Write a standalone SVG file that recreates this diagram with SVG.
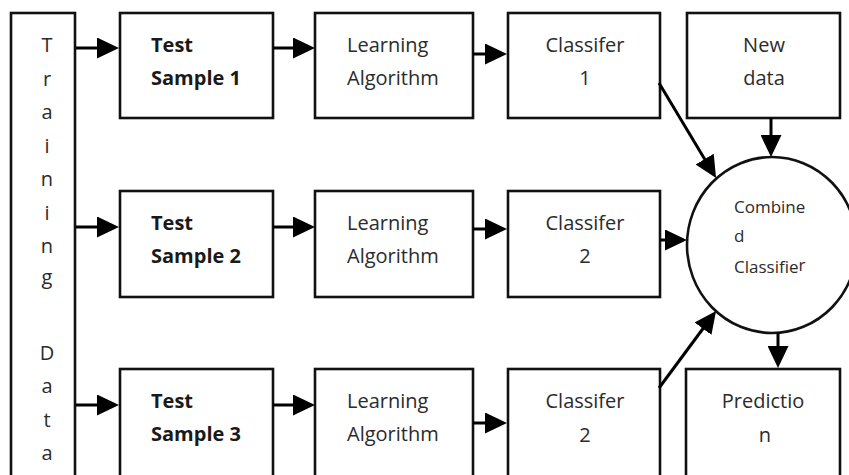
<svg xmlns="http://www.w3.org/2000/svg" width="849" height="475" viewBox="0 0 849 475">
  <style>
    .box { fill: #ffffff; stroke: #111111; stroke-width: 2.6; }
    .lbl { font-family: "Open Sans", "Liberation Sans", sans-serif; font-size: 20px; fill: #2b2b2b; }
    .bold { font-weight: bold; fill: #1a1a1a; }
    .mid { text-anchor: middle; }
    .small { font-size: 17px; }
    .conn { stroke: #000000; stroke-width: 3; fill: none; marker-end: url(#head); }
  </style>
  <defs>
    <marker id="head" markerUnits="userSpaceOnUse" markerWidth="22" markerHeight="21" refX="12" refY="10.5" orient="auto">
      <path d="M0,0 L22,10.5 L0,21 Z" fill="#000000"/>
    </marker>
  </defs>
  <rect width="849" height="475" fill="#ffffff"/>

  <!-- training data column -->
  <g id="training-data">
    <rect class="box" x="11" y="13" width="64" height="480"/>
    <text class="lbl mid" x="47" y="52">T</text>
    <text class="lbl mid" x="47" y="86">r</text>
    <text class="lbl mid" x="47" y="119">a</text>
    <text class="lbl mid" x="47" y="153">i</text>
    <text class="lbl mid" x="47" y="186">n</text>
    <text class="lbl mid" x="47" y="220">i</text>
    <text class="lbl mid" x="47" y="253">n</text>
    <text class="lbl mid" x="47" y="284">g</text>
    <text class="lbl mid" x="47" y="360">D</text>
    <text class="lbl mid" x="47" y="393">a</text>
    <text class="lbl mid" x="47" y="427">t</text>
    <text class="lbl mid" x="47" y="460">a</text>
  </g>

  <!-- row 1 -->
  <g id="test-sample-1">
    <rect class="box" x="120" y="13" width="153" height="105"/>
    <text class="lbl bold" x="151" y="52">Test</text>
    <text class="lbl bold" x="151" y="85">Sample 1</text>
  </g>
  <g id="learning-1">
    <rect class="box" x="315" y="13" width="158" height="105"/>
    <text class="lbl" x="347" y="52">Learning</text>
    <text class="lbl" x="347" y="85">Algorithm</text>
  </g>
  <g id="classifier-1">
    <rect class="box" x="508" y="13" width="152" height="105"/>
    <text class="lbl mid" x="585" y="52">Classifer</text>
    <text class="lbl mid" x="585" y="85">1</text>
  </g>
  <g id="new-data">
    <rect class="box" x="687" y="13" width="153" height="105"/>
    <text class="lbl mid" x="764" y="52">New</text>
    <text class="lbl mid" x="764" y="85">data</text>
  </g>

  <!-- row 2 -->
  <g id="test-sample-2">
    <rect class="box" x="120" y="191" width="153" height="106"/>
    <text class="lbl bold" x="151" y="230">Test</text>
    <text class="lbl bold" x="151" y="263">Sample 2</text>
  </g>
  <g id="learning-2">
    <rect class="box" x="315" y="191" width="158" height="106"/>
    <text class="lbl" x="347" y="230">Learning</text>
    <text class="lbl" x="347" y="263">Algorithm</text>
  </g>
  <g id="classifier-2">
    <rect class="box" x="508" y="191" width="152" height="106"/>
    <text class="lbl mid" x="585" y="230">Classifer</text>
    <text class="lbl mid" x="585" y="263">2</text>
  </g>

  <!-- combiner -->
  <g id="combined-classifier">
    <ellipse class="box" cx="772" cy="245" rx="85" ry="88"/>
    <text class="lbl small" x="734" y="213">Combine</text>
    <text class="lbl small" x="734" y="242">d</text>
    <text class="lbl small" x="734" y="273">Classifie<tspan dy="-2">r</tspan></text>
  </g>

  <!-- row 3 -->
  <g id="test-sample-3">
    <rect class="box" x="120" y="369" width="153" height="120"/>
    <text class="lbl bold" x="151" y="408">Test</text>
    <text class="lbl bold" x="151" y="441">Sample 3</text>
  </g>
  <g id="learning-3">
    <rect class="box" x="315" y="369" width="158" height="120"/>
    <text class="lbl" x="347" y="408">Learning</text>
    <text class="lbl" x="347" y="441">Algorithm</text>
  </g>
  <g id="classifier-3">
    <rect class="box" x="508" y="369" width="152" height="120"/>
    <text class="lbl mid" x="585" y="408">Classifer</text>
    <text class="lbl mid" x="585" y="442">2</text>
  </g>
  <g id="prediction">
    <rect class="box" x="686" y="369" width="154" height="120"/>
    <text class="lbl mid" x="763" y="408">Predictio</text>
    <text class="lbl mid" x="765" y="442">n</text>
  </g>

  <!-- connectors -->
  <g id="connectors">
    <path class="conn" d="M76,48 H109"/>
    <path class="conn" d="M76,227 H109"/>
    <path class="conn" d="M76,405 H109"/>
    <path class="conn" d="M273,48 H305"/>
    <path class="conn" d="M273,227 H305"/>
    <path class="conn" d="M273,405 H305"/>
    <path class="conn" d="M473,54 H497"/>
    <path class="conn" d="M473,229 H497"/>
    <path class="conn" d="M473,423 H497"/>
    <path class="conn" d="M659,83 L710.9,169.4"/>
    <path class="conn" d="M660,240 H677"/>
    <path class="conn" d="M659,388 L710.1,319"/>
    <path class="conn" d="M771,118 V147"/>
    <path class="conn" d="M778,333 V358"/>
  </g>
</svg>
